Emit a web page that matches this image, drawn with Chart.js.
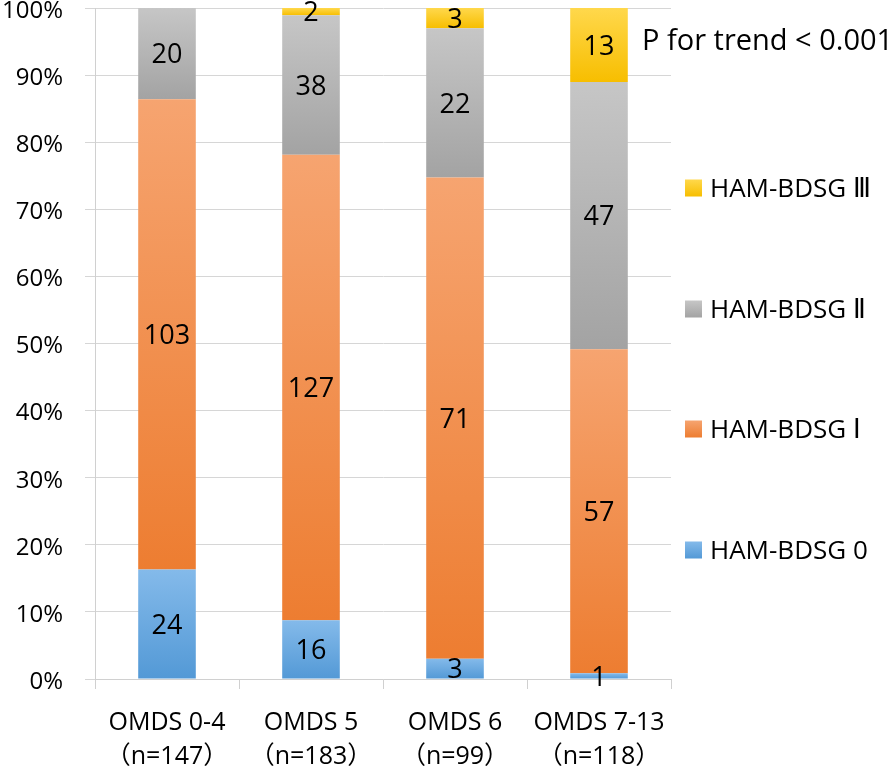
<!DOCTYPE html>
<html>
<head>
<meta charset="utf-8">
<script src="https://cdn.jsdelivr.net/npm/chart.js@4/dist/chart.umd.min.js"></script>
<style>
  html, body { margin: 0; padding: 0; background: #ffffff; }
  #wrap { position: relative; width: 896px; height: 774px; }
</style>
</head>
<body>
<div id="wrap"><canvas id="c" width="896" height="774"></canvas></div>
<script>
// ---- data ----
const categories = ['OMDS 0-4', 'OMDS 5', 'OMDS 6', 'OMDS 7-13'];
const groupSizes = ['（n=147）', '（n=183）', '（n=99）', '（n=118）'];
const seriesNames = ['HAM-BDSG 0', 'HAM-BDSG Ⅰ', 'HAM-BDSG Ⅱ', 'HAM-BDSG Ⅲ'];
const grade0 = [24, 16, 3, 1];
const grade1 = [103, 127, 71, 57];
const grade2 = [20, 38, 22, 47];
const grade3 = [0, 2, 3, 13];
const yTickValues = [0, 10, 20, 30, 40, 50, 60, 70, 80, 90, 100];
const trendText = 'P for trend < 0.001';

// ---- styles ----
const FONT = "'Open Sans', 'DejaVu Sans', 'Noto Sans CJK JP', sans-serif";
const seriesColors = [
  ['#84baea', '#5399d6'],   // blue
  ['#f6a470', '#ed7d31'],   // orange
  ['#c6c6c6', '#a3a3a3'],   // gray
  ['#ffd84c', '#f7be00']    // gold
];

const counts = [grade0, grade1, grade2, grade3];
const totals = categories.map((_, j) => counts.reduce((s, arr) => s + arr[j], 0));
const percents = counts.map(arr => arr.map((v, j) => v / totals[j] * 100));

function segmentFill(ctx, di) {
  const chart = ctx.chart;
  const stops = seriesColors[di];
  const area = chart.chartArea;
  if (!area || ctx.type !== 'data' || !chart.scales.y) return stops[1];
  const j = ctx.dataIndex;
  let start = 0;
  for (let k = 0; k < di; k++) start += percents[k][j];
  const end = start + percents[di][j];
  const yTop = chart.scales.y.getPixelForValue(end);
  const yBot = chart.scales.y.getPixelForValue(start);
  if (!(yBot - yTop > 0.5)) return stops[1];
  const g = chart.ctx.createLinearGradient(0, yTop, 0, yBot);
  g.addColorStop(0, stops[0]);
  g.addColorStop(1, stops[1]);
  return g;
}

const datasets = percents.map((arr, di) => ({
  label: seriesNames[di],
  data: arr,
  counts: counts[di],
  backgroundColor: (ctx) => segmentFill(ctx, di),
  borderWidth: 0,
  categoryPercentage: 1.0,
  barPercentage: 0.4
}));

// data labels (counts) centered in each segment
const countLabels = {
  id: 'countLabels',
  afterDatasetsDraw(chart) {
    const ctx = chart.ctx;
    ctx.save();
    ctx.font = '27px ' + FONT;
    ctx.fillStyle = '#000000';
    ctx.textAlign = 'center';
    ctx.textBaseline = 'middle';
    chart.data.datasets.forEach((ds, di) => {
      const meta = chart.getDatasetMeta(di);
      meta.data.forEach((el, j) => {
        const v = ds.counts[j];
        if (!v) return;
        const yc = (el.y + el.base) / 2;
        ctx.fillText(String(v), el.x, yc + 2);
      });
    });
    ctx.restore();
  }
};

// legend (reverse order, right side) and trend note
const sideLegend = {
  id: 'sideLegend',
  afterDraw(chart) {
    const ctx = chart.ctx;
    const area = chart.chartArea;
    const boxX = area.right + 14;
    const box = 17;
    const centers = [188, 309, 429, 550];
    ctx.save();
    ctx.font = '26px ' + FONT;
    ctx.textBaseline = 'middle';
    ctx.textAlign = 'left';
    const order = [3, 2, 1, 0];
    order.forEach((di, k) => {
      const cy = centers[k];
      const stops = seriesColors[di];
      const g = ctx.createLinearGradient(0, cy - box / 2, 0, cy + box / 2);
      g.addColorStop(0, stops[0]);
      g.addColorStop(1, stops[1]);
      ctx.fillStyle = g;
      ctx.fillRect(boxX, cy - box / 2, box, box);
      ctx.fillStyle = '#000000';
      ctx.fillText(chart.data.datasets[di].label, boxX + box + 8, cy + 2);
    });
    ctx.font = '29px ' + FONT;
    ctx.fillStyle = '#000000';
    ctx.fillText(trendText, area.right - 29, 42);
    ctx.restore();
  }
};

new Chart(document.getElementById('c'), {
  type: 'bar',
  data: {
    labels: categories.map((c, j) => [c, groupSizes[j]]),
    datasets: datasets
  },
  options: {
    responsive: false,
    devicePixelRatio: 1,
    animation: false,
    events: [],
    layout: { padding: { top: 8, right: 225, bottom: 0, left: 0 } },
    plugins: {
      legend: { display: false },
      tooltip: { enabled: false },
      title: { display: false }
    },
    scales: {
      x: {
        stacked: true,
        offset: true,
        grid: {
          display: true,
          offset: true,
          drawOnChartArea: false,
          drawTicks: true,
          tickLength: 10,
          color: '#d0d0d0',
          lineWidth: 1
        },
        border: { display: true, color: '#d0d0d0', width: 1 },
        ticks: {
          color: '#000000',
          padding: 17,
          maxRotation: 0,
          autoSkip: false,
          font: { family: "'Open Sans', 'Noto Sans CJK JP', sans-serif", size: 25, lineHeight: 1.36 }
        },
        afterFit(scale) {
          scale.height = 95;
          scale.paddingLeft = 0;
          scale.paddingRight = 0;
        }
      },
      y: {
        stacked: true,
        min: 0,
        max: 100,
        afterBuildTicks(scale) {
          scale.ticks = yTickValues.map(v => ({ value: v }));
        },
        grid: {
          color: '#d6d6d6',
          lineWidth: 1,
          tickLength: 10,
          drawTicks: true
        },
        border: { display: true, color: '#d0d0d0', width: 1 },
        ticks: {
          color: '#000000',
          padding: 22,
          labelOffset: 3,
          font: { family: FONT, size: 24 },
          callback: (v) => v + '%'
        },
        afterFit(scale) {
          scale.width = 95;
          scale.paddingTop = 0;
          scale.paddingBottom = 0;
        }
      }
    }
  },
  plugins: [countLabels, sideLegend]
});
</script>
</body>
</html>
